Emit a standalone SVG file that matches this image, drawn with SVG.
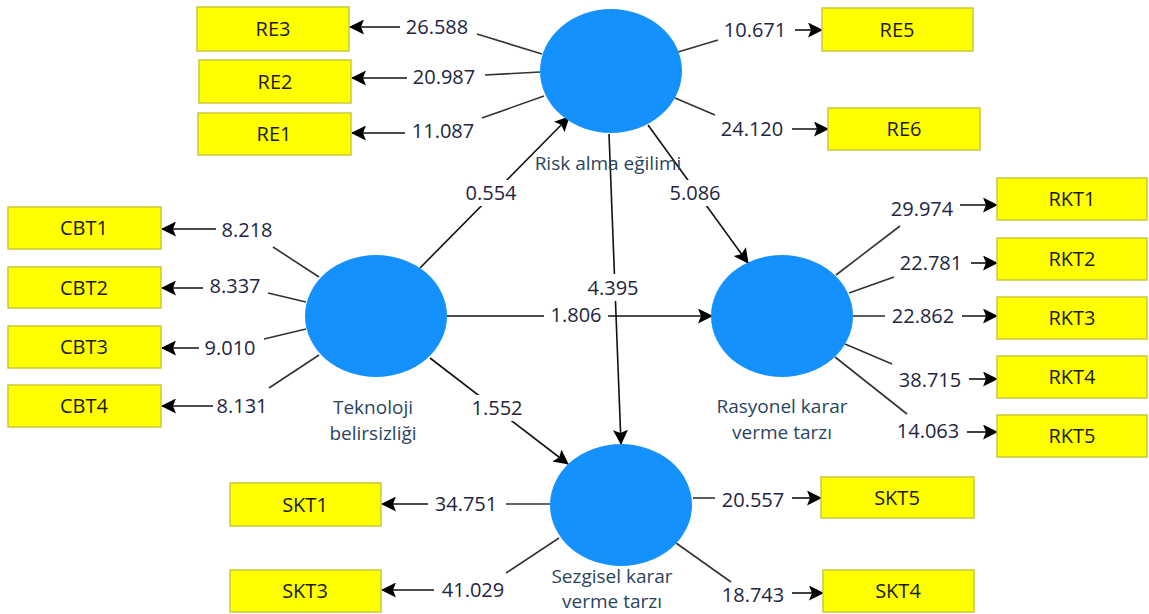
<svg xmlns="http://www.w3.org/2000/svg" width="1149" height="614" viewBox="0 0 1149 614">
  <defs>
    <marker id="arrow" markerUnits="userSpaceOnUse" markerWidth="15" markerHeight="15" viewBox="0 0 15 15" refX="14" refY="7.5" orient="auto">
      <path d="M0,0 L15,7.5 L0,15 L3,7.5 z" fill="#000"/>
    </marker>
    <style>
      .lv { fill: #1591fd; }
      .ind rect { fill: #ffff00; stroke: #c9c93a; stroke-width: 1.5; }
      .ind text { font-family: "Open Sans", "Noto Sans", sans-serif; font-size: 20px; fill: #1b1b05; text-anchor: middle; }
      .name { font-family: "Open Sans", "Noto Sans", sans-serif; font-size: 19px; fill: #2a4560; text-anchor: middle; }
      .seg { stroke: #333; stroke-width: 1.6; fill: none; }
      .arr { stroke: #111; stroke-width: 1.6; fill: none; marker-end: url(#arrow); }
      .num { font-family: "Open Sans", "Noto Sans", sans-serif; font-size: 20px; fill: #22253f; text-anchor: middle; }
      .mask { fill: #fff; }
    </style>
  </defs>
  <rect width="1149" height="614" fill="#fff"/>

  <!-- connectors: outer loadings, inner paths, weights -->
  <g id="connectors">
    <!-- Risk alma eğilimi indicators -->
    <line class="seg" x1="542" y1="54" x2="477" y2="34"/>
    <line class="arr" x1="400" y1="27" x2="350" y2="27"/>
    <text class="num" x="437" y="34">26.588</text>
    <line class="seg" x1="540" y1="72" x2="485" y2="75"/>
    <line class="arr" x1="407" y1="78" x2="352" y2="78"/>
    <text class="num" x="444" y="84">20.987</text>
    <line class="seg" x1="544" y1="96" x2="482" y2="118"/>
    <line class="arr" x1="405" y1="133" x2="352" y2="133"/>
    <text class="num" x="443" y="138">11.087</text>
    <line class="seg" x1="678" y1="52" x2="718" y2="40"/>
    <line class="arr" x1="795" y1="30" x2="822" y2="30"/>
    <text class="num" x="755" y="37">10.671</text>
    <line class="seg" x1="675" y1="98" x2="715" y2="115"/>
    <line class="arr" x1="792" y1="129" x2="828" y2="129"/>
    <text class="num" x="752" y="136">24.120</text>

    <!-- Teknoloji belirsizliği indicators -->
    <line class="seg" x1="319" y1="277" x2="273" y2="247"/>
    <line class="arr" x1="216" y1="229" x2="162" y2="229"/>
    <text class="num" x="247" y="237">8.218</text>
    <line class="seg" x1="306" y1="302" x2="268" y2="293"/>
    <line class="arr" x1="203" y1="288" x2="162" y2="288"/>
    <text class="num" x="235" y="293">8.337</text>
    <line class="seg" x1="306" y1="329" x2="264" y2="339"/>
    <line class="arr" x1="199" y1="348" x2="162" y2="348"/>
    <text class="num" x="230" y="355">9.010</text>
    <line class="seg" x1="319" y1="355" x2="269" y2="388"/>
    <line class="arr" x1="213" y1="406" x2="162" y2="406"/>
    <text class="num" x="242" y="413">8.131</text>

    <!-- Rasyonel karar verme tarzı indicators -->
    <line class="seg" x1="836" y1="275" x2="900" y2="226"/>
    <line class="arr" x1="960" y1="205" x2="997" y2="205"/>
    <text class="num" x="922" y="216">29.974</text>
    <line class="seg" x1="849" y1="293" x2="894" y2="277"/>
    <line class="arr" x1="971" y1="263" x2="997" y2="263"/>
    <text class="num" x="931" y="270">22.781</text>
    <line class="seg" x1="853" y1="316" x2="885" y2="316"/>
    <line class="arr" x1="962" y1="316" x2="997" y2="316"/>
    <text class="num" x="923" y="323">22.862</text>
    <line class="seg" x1="845" y1="344" x2="892" y2="364"/>
    <line class="arr" x1="969" y1="379" x2="997" y2="379"/>
    <text class="num" x="930" y="387">38.715</text>
    <line class="seg" x1="835" y1="357" x2="907" y2="414"/>
    <line class="arr" x1="967" y1="432" x2="997" y2="432"/>
    <text class="num" x="928" y="438">14.063</text>

    <!-- Sezgisel karar verme tarzı indicators -->
    <line class="seg" x1="550" y1="504" x2="506" y2="504"/>
    <line class="arr" x1="428" y1="504" x2="382" y2="504"/>
    <text class="num" x="466" y="511">34.751</text>
    <line class="seg" x1="559" y1="538" x2="506" y2="573"/>
    <line class="arr" x1="434" y1="590" x2="382" y2="590"/>
    <text class="num" x="473" y="597">41.029</text>
    <line class="seg" x1="693" y1="498" x2="715" y2="498"/>
    <line class="arr" x1="792" y1="498" x2="821" y2="498"/>
    <text class="num" x="753" y="507">20.557</text>
    <line class="seg" x1="676" y1="543" x2="731" y2="582"/>
    <line class="arr" x1="792" y1="593" x2="823" y2="593"/>
    <text class="num" x="753" y="602">18.743</text>

    <!-- inner model paths -->
    <line class="arr" x1="420" y1="268" x2="569" y2="117"/>
    <line class="arr" x1="648" y1="125" x2="748" y2="263"/>
    <line class="arr" x1="609" y1="134" x2="621" y2="444"/>
    <line class="arr" x1="447" y1="316" x2="712" y2="316"/>
    <line class="arr" x1="430" y1="358" x2="568" y2="464"/>

    <rect class="mask" x="462" y="180" width="58" height="26"/>
    <text class="num" x="491" y="200">0.554</text>
    <rect class="mask" x="666" y="180" width="58" height="26"/>
    <text class="num" x="695" y="200">5.086</text>
    <rect class="mask" x="584" y="274" width="58" height="27"/>
    <text class="num" x="613" y="295">4.395</text>
    <rect class="mask" x="544" y="303" width="64" height="25"/>
    <text class="num" x="576" y="322">1.806</text>
    <rect class="mask" x="468" y="395" width="58" height="26"/>
    <text class="num" x="497" y="415">1.552</text>
  </g>

  <!-- latent variables -->
  <g id="risk-alma-egilimi">
    <ellipse class="lv" cx="611" cy="71" rx="71" ry="62"/>
    <text class="name" x="608" y="170">Risk alma eğilimi</text>
  </g>
  <g id="teknoloji-belirsizligi">
    <ellipse class="lv" cx="376" cy="316" rx="71" ry="61"/>
    <text class="name" x="373" y="414">Teknoloji</text>
    <text class="name" x="373" y="440">belirsizliği</text>
  </g>
  <g id="rasyonel-karar">
    <ellipse class="lv" cx="782" cy="316" rx="71" ry="61"/>
    <text class="name" x="782" y="413">Rasyonel karar</text>
    <text class="name" x="782" y="439">verme tarzı</text>
  </g>
  <g id="sezgisel-karar">
    <ellipse class="lv" cx="621" cy="505" rx="71" ry="61"/>
    <text class="name" x="612" y="583">Sezgisel karar</text>
    <text class="name" x="612" y="608">verme tarzı</text>
  </g>

  <!-- indicators -->
  <g id="RE3" class="ind"><rect x="197" y="7" width="152" height="44"/><text x="273" y="36">RE3</text></g>
  <g id="RE2" class="ind"><rect x="199" y="60" width="152" height="43"/><text x="275" y="89">RE2</text></g>
  <g id="RE1" class="ind"><rect x="198" y="113" width="153" height="42"/><text x="274" y="141">RE1</text></g>
  <g id="RE5" class="ind"><rect x="822" y="8" width="151" height="43"/><text x="897" y="37">RE5</text></g>
  <g id="RE6" class="ind"><rect x="828" y="108" width="152" height="42"/><text x="904" y="136">RE6</text></g>

  <g id="CBT1" class="ind"><rect x="8" y="207" width="153" height="42"/><text x="84" y="235">CBT1</text></g>
  <g id="CBT2" class="ind"><rect x="8" y="267" width="153" height="41"/><text x="84" y="295">CBT2</text></g>
  <g id="CBT3" class="ind"><rect x="8" y="326" width="153" height="42"/><text x="84" y="354">CBT3</text></g>
  <g id="CBT4" class="ind"><rect x="8" y="385" width="153" height="42"/><text x="84" y="413">CBT4</text></g>

  <g id="RKT1" class="ind"><rect x="997" y="178" width="150" height="42"/><text x="1072" y="206">RKT1</text></g>
  <g id="RKT2" class="ind"><rect x="997" y="238" width="150" height="42"/><text x="1072" y="266">RKT2</text></g>
  <g id="RKT3" class="ind"><rect x="997" y="297" width="150" height="42"/><text x="1072" y="325">RKT3</text></g>
  <g id="RKT4" class="ind"><rect x="997" y="356" width="150" height="42"/><text x="1072" y="384">RKT4</text></g>
  <g id="RKT5" class="ind"><rect x="997" y="415" width="150" height="42"/><text x="1072" y="443">RKT5</text></g>

  <g id="SKT1" class="ind"><rect x="230" y="483" width="151" height="43"/><text x="305" y="512">SKT1</text></g>
  <g id="SKT3" class="ind"><rect x="230" y="570" width="151" height="42"/><text x="305" y="598">SKT3</text></g>
  <g id="SKT5" class="ind"><rect x="821" y="477" width="153" height="41"/><text x="897" y="505">SKT5</text></g>
  <g id="SKT4" class="ind"><rect x="823" y="570" width="151" height="42"/><text x="898" y="598">SKT4</text></g>
</svg>
